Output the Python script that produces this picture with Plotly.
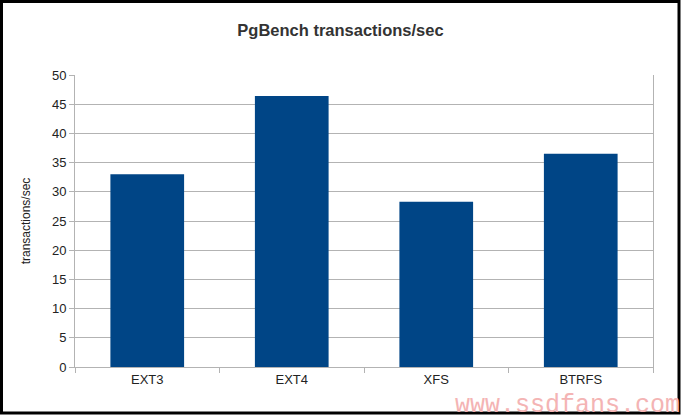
import plotly.graph_objects as go

categories = ["EXT3", "EXT4", "XFS", "BTRFS"]
values = [33.0, 46.4, 28.3, 36.5]
y_ticks = [0, 5, 10, 15, 20, 25, 30, 35, 40, 45, 50]

W, H = 681, 416
L, R, T, B = 75, 28, 75, 49
pw, ph = W - L - R, H - T - B

def px(x):
    return (x - L) / pw

def py(y):
    return (H - B - y) / ph

fig = go.Figure(go.Bar(x=categories, y=values, marker_color="#004586",
                       marker_line_width=0, width=0.51))

fig.update_layout(
    width=W, height=H,
    margin=dict(l=L, r=R, t=T, b=B),
    paper_bgcolor="white", plot_bgcolor="white",
    font=dict(family="Liberation Sans", size=13, color="#222222"),
    title=dict(text="<b>PgBench transactions/sec</b>", x=0.5, xanchor="center",
               y=1 - 30 / H, yanchor="middle",
               font=dict(size=16.5, color="#333333")),
    showlegend=False,
    xaxis=dict(tickson="boundaries", ticks="outside", ticklen=5, tickcolor="#b3b3b3",
               showgrid=False, showline=True, linecolor="#b3b3b3", linewidth=1,
               range=[-0.5, 3.5], tickfont=dict(size=13)),
    yaxis=dict(range=[0, 50], tickvals=y_ticks, ticks="outside", ticklen=5,
               tickcolor="#b3b3b3", showgrid=True, gridcolor="#b3b3b3",
               showline=True, linecolor="#b3b3b3", mirror=True, zeroline=False,
               title=dict(text="transactions/sec", font=dict(size=12), standoff=18),
               tickfont=dict(size=13)),
)

fig.add_annotation(text="www.ssdfans.com", xref="paper", yref="paper",
                   x=px(453), y=py(422), xanchor="left", yanchor="bottom",
                   showarrow=False,
                   font=dict(family="Liberation Mono", size=25, color="#f4b4b4"))

fig.add_shape(type="rect", xref="paper", yref="paper",
              x0=px(1.5), x1=px(679), y0=py(1.5), y1=py(413),
              line=dict(color="black", width=3), layer="above")

fig.write_html("out.html", config={"displayModeBar": False},
               post_script="document.body.style.margin='0';document.body.style.overflow='hidden';")
